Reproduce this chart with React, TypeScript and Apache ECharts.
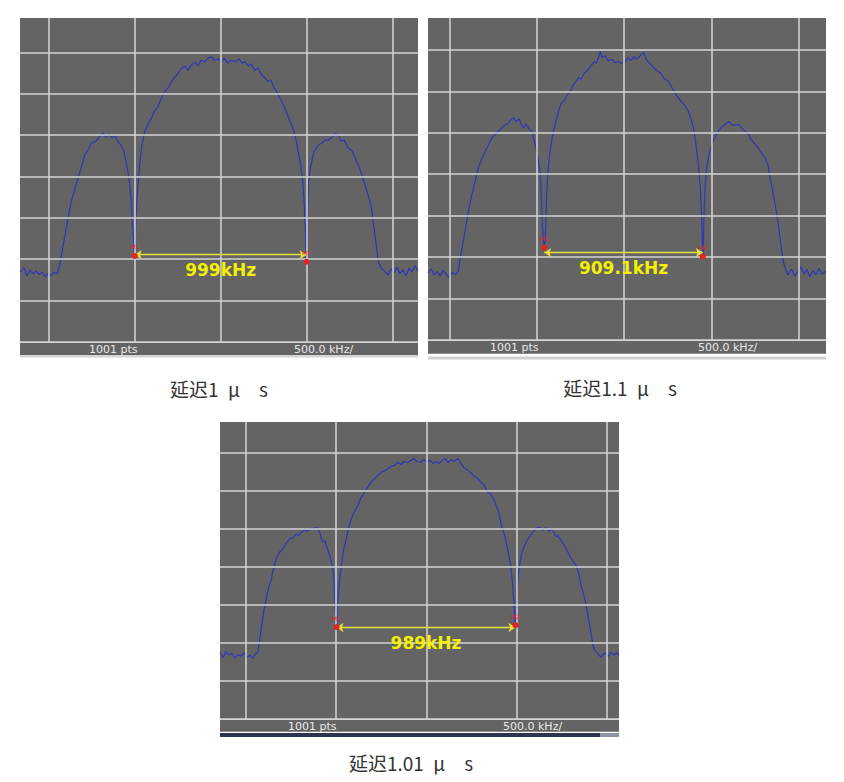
import { useEffect, useRef } from "react";
import * as echarts from "echarts";

// Graticule positions (500 kHz/div horizontally, 10 dB/div vertically)
const FREQ_GRID_KHZ = [-1000, -500, 0, 500, 1000];
const LEVEL_GRID_DB = [-20, -30, -40, -50, -60, -70, -80, -90];

const CAPTIONS = ["延迟1\u2002μ\u2003s", "延迟1.1\u2002μ\u2003s", "延迟1.01\u2002μ\u2003s"];
const POINTS_LABEL = "1001 pts";
const SPAN_LABEL = "500.0 kHz/";

// Delta markers: M1 position, M1→M2 spacing, marker levels and arrow level
const M1_KHZ = [-500, -458, -496];
const DELTA_KHZ = [999, 909.1, 989];
const M1_DB = [-69.2, -67.7, -65.8];
const M2_DB = [-70.6, -69.9, -65.3];
const ARROW_DB = [-68.9, -68.9, -65.9];

// Traces as [offset from centre kHz, level dB]
const TRACE_1US: [number, number][] = [
  [-1167, -73.1], [-1143, -72.1], [-1126, -74.0], [-1108, -72.6], [-1091, -73.5], [-1073, -72.8],
  [-1056, -73.7], [-1038, -73.1], [-1021, -74.3], [-1003, -73.3], [-986, -74.0], [-969, -73.1],
  [-951, -73.5], [-936, -71.4], [-923, -68.2], [-905, -64.1], [-888, -60.0], [-873, -56.9],
  [-859, -54.5], [-844, -52.3], [-830, -50.4], [-812, -48.0], [-791, -44.8], [-771, -43.6],
  [-754, -42.1], [-733, -41.6], [-719, -41.2], [-702, -40.2], [-684, -39.5], [-667, -40.5],
  [-649, -39.7], [-632, -40.7], [-616, -40.2], [-603, -41.2], [-580, -42.4], [-562, -44.1],
  [-551, -46.4], [-539, -48.9], [-529, -52.0], [-521, -55.7], [-516, -60.0], [-508, -64.5],
  [-500, -69.2], [-491, -58.5], [-481, -52.0], [-471, -47.2], [-458, -42.4], [-442, -39.2],
  [-423, -37.3], [-403, -35.9], [-388, -34.4], [-365, -33.1], [-347, -31.3], [-326, -29.5],
  [-306, -28.6], [-287, -27.1], [-266, -26.0], [-248, -25.0], [-229, -23.9], [-208, -23.3],
  [-190, -24.3], [-171, -23.1], [-149, -22.3], [-132, -23.3], [-115, -21.9], [-93, -22.3],
  [-74, -21.4], [-52, -21.1], [-39, -21.9], [-16, -21.6], [2, -22.3], [19, -21.4],
  [42, -22.6], [60, -21.9], [83, -22.3], [106, -21.6], [124, -22.6], [141, -22.3],
  [159, -23.3], [176, -22.8], [199, -24.3], [217, -23.8], [234, -25.2], [252, -26.0],
  [275, -27.1], [292, -26.7], [310, -28.6], [326, -29.5], [339, -30.6], [356, -32.0],
  [374, -33.5], [391, -35.4], [409, -37.3], [420, -38.3], [432, -40.0], [444, -42.4],
  [461, -46.4], [473, -49.6], [480, -52.8], [487, -58.1], [493, -64.1], [499, -70.6],
  [502, -64.8], [509, -52.8], [519, -48.4], [529, -46.4], [542, -44.1], [567, -42.4],
  [589, -41.9], [606, -41.2], [626, -41.2], [647, -40.5], [665, -39.7], [684, -40.0],
  [699, -41.4], [717, -41.2], [742, -43.2], [763, -43.8], [781, -45.5], [800, -47.2],
  [816, -48.9], [827, -50.8], [839, -52.0], [851, -53.7], [868, -56.1], [880, -58.6],
  [888, -61.7], [897, -64.1], [906, -67.3], [916, -70.6], [932, -72.1], [955, -73.0],
  [973, -73.8], [990, -72.3], [1008, -73.3], [1025, -71.9], [1042, -73.5], [1060, -72.6],
  [1077, -74.0], [1095, -72.1], [1112, -73.1], [1130, -71.6], [1147, -72.8],
];

const TRACE_1_1US: [number, number][] = [
  [-1124, -73.8], [-1105, -72.9], [-1088, -74.3], [-1071, -73.4], [-1054, -74.6], [-1037, -73.2],
  [-1019, -74.1], [-1002, -75.0], [-985, -73.6], [-968, -74.3], [-949, -73.3], [-939, -70.1],
  [-925, -66.9], [-911, -63.7], [-892, -58.8], [-876, -55.6], [-863, -53.2], [-848, -50.7],
  [-835, -48.4], [-816, -46.4], [-796, -44.4], [-779, -43.0], [-758, -41.2], [-739, -40.4],
  [-710, -39.2], [-687, -38.2], [-664, -37.7], [-653, -37.0], [-634, -36.4], [-619, -37.3],
  [-601, -36.6], [-590, -38.0], [-577, -38.8], [-561, -37.8], [-544, -39.2], [-529, -39.6],
  [-521, -40.9], [-510, -42.8], [-498, -45.2], [-491, -46.8], [-481, -50.0], [-475, -54.8],
  [-470, -60.8], [-464, -65.7], [-458, -67.7], [-450, -63.3], [-444, -54.8], [-435, -48.8],
  [-424, -44.4], [-414, -41.6], [-405, -39.6], [-389, -36.8], [-376, -34.8], [-361, -32.9],
  [-347, -32.4], [-326, -30.8], [-309, -30.0], [-292, -28.6], [-275, -27.6], [-262, -26.7],
  [-247, -27.1], [-229, -25.7], [-205, -24.7], [-189, -23.8], [-172, -22.8], [-160, -23.3],
  [-147, -21.9], [-137, -20.3], [-126, -21.9], [-109, -21.4], [-92, -22.6], [-70, -22.3],
  [-52, -23.1], [-34, -22.8], [-13, -23.3], [6, -22.8], [23, -21.9], [40, -22.6],
  [57, -21.6], [74, -22.3], [92, -21.4], [111, -20.6], [126, -22.3], [143, -23.1],
  [160, -23.8], [178, -24.7], [196, -25.2], [212, -25.7], [229, -26.9], [254, -27.6],
  [269, -28.8], [286, -30.0], [311, -31.6], [326, -32.4], [349, -33.4], [368, -34.8],
  [384, -36.8], [397, -38.8], [406, -41.1], [416, -44.4], [427, -48.3], [435, -52.4],
  [441, -57.2], [445, -61.3], [448, -65.7], [451.1, -69.9], [455, -65.7], [459, -58.4],
  [464, -53.2], [472, -48.8], [483, -46.0], [495, -44.0], [511, -42.0], [527, -40.6],
  [540, -39.6], [556, -38.7], [578, -38.0], [601, -37.3], [624, -38.2], [655, -38.0],
  [670, -38.7], [693, -39.6], [710, -40.1], [727, -41.6], [750, -42.8], [767, -43.5],
  [785, -44.7], [808, -46.0], [825, -47.8], [836, -50.8], [850, -53.6], [865, -57.2],
  [875, -59.6], [884, -62.0], [893, -65.2], [903, -68.5], [912, -71.0], [922, -72.5],
  [939, -74.3], [960, -72.9], [979, -74.6], [997, -73.4], [1014, -72.4], [1031, -74.1],
  [1048, -72.9], [1065, -74.8], [1082, -73.2], [1100, -74.3], [1117, -72.7], [1134, -74.1],
  [1157, -73.4],
];

const TRACE_1_01US: [number, number][] = [
  [-1141, -72.5], [-1124, -73.8], [-1108, -72.2], [-1091, -73.2], [-1075, -72.7], [-1058, -74.0],
  [-1041, -73.0], [-1025, -73.5], [-1008, -72.5], [-992, -73.8], [-975, -73.2], [-959, -74.0],
  [-942, -72.7], [-931, -72.4], [-913, -66.2], [-900, -61.9], [-885, -58.3], [-873, -55.6],
  [-857, -53.1], [-845, -50.3], [-830, -47.8], [-812, -46.1], [-793, -45.2], [-776, -43.8],
  [-756, -42.5], [-737, -42.2], [-721, -41.4], [-704, -41.7], [-691, -40.8], [-676, -40.3],
  [-660, -40.6], [-643, -39.8], [-627, -40.1], [-608, -39.5], [-599, -39.8], [-590, -40.8],
  [-580, -42.5], [-571, -43.4], [-560, -43.0], [-553, -44.3], [-544, -45.6], [-534, -46.9],
  [-524, -48.8], [-516, -50.4], [-510, -53.5], [-507, -57.5], [-502, -61.9], [-496, -65.8],
  [-493, -61.9], [-488, -58.3], [-480, -53.5], [-470, -49.6], [-458, -45.6], [-442, -42.5],
  [-430, -39.8], [-415, -37.3], [-397, -35.3], [-378, -33.8], [-361, -31.7], [-341, -30.3],
  [-322, -28.8], [-304, -27.6], [-289, -26.9], [-270, -25.9], [-249, -25.0], [-228, -24.6],
  [-212, -24.1], [-195, -23.5], [-175, -23.2], [-157, -22.4], [-140, -23.0], [-123, -22.2],
  [-104, -22.4], [-83, -21.9], [-68, -21.4], [-51, -22.2], [-28, -22.4], [-13, -21.7],
  [4, -22.4], [20, -21.9], [37, -22.7], [54, -22.2], [70, -22.7], [87, -21.9],
  [103, -21.4], [120, -22.4], [137, -21.7], [153, -22.2], [175, -21.4], [192, -22.7],
  [209, -23.8], [231, -24.6], [245, -25.1], [264, -26.1], [286, -26.7], [303, -27.7],
  [319, -28.5], [341, -30.3], [358, -30.9], [374, -32.2], [387, -33.8], [402, -35.6],
  [415, -39.0], [424, -40.3], [435, -41.9], [442, -43.4], [452, -45.6], [460, -47.7],
  [467, -49.6], [474, -52.7], [479, -55.7], [485, -59.3], [489, -62.7], [493, -65.3],
  [498, -61.9], [503, -55.7], [512, -50.9], [525, -46.9], [537, -45.1], [553, -43.4],
  [568, -42.2], [590, -40.8], [607, -39.8], [627, -39.5], [645, -40.3], [662, -39.6],
  [679, -40.6], [691, -39.9], [706, -40.9], [717, -41.9], [728, -41.7], [745, -43.0],
  [765, -44.3], [784, -46.1], [802, -47.8], [817, -48.8], [830, -49.6], [845, -52.2],
  [857, -54.8], [872, -57.5], [885, -60.1], [894, -62.7], [904, -65.4], [914, -68.2],
  [922, -70.6], [933, -72.0], [950, -72.8], [966, -73.8], [987, -72.5], [1005, -73.6],
  [1022, -72.4], [1038, -73.2], [1055, -72.5], [1066, -73.2],
];

const TRACES = [TRACE_1US, TRACE_1_1US, TRACE_1_01US];

// Screen layout of the three analyser panels
const PANELS = [
  { left: 20, top: 18, width: 398, height: 324, xMin: -1167, xMax: 1147, yMax: -11.7, barH: 13, ptsX: 89, spanX: 294, capX: 219, capY: 388 },
  { left: 428, top: 18, width: 398, height: 322, xMin: -1124, xMax: 1157, yMax: -12.3, barH: 13, ptsX: 490, spanX: 698, capX: 620, capY: 387 },
  { left: 220, top: 422, width: 399, height: 297, xMin: -1141, xMax: 1066, yMax: -11.8, barH: 12, ptsX: 288, spanX: 503, capX: 411, capY: 762 },
];

const PLOT_BG = "#646464";
const GRID_COLOR = "#d4d4d4";
const TRACE_COLOR = "#3136b6";
const MARKER_COLOR = "#e42222";

const fmtKHz = (v: number) => `${Math.round(v * 10) / 10}kHz`;

export default function App() {
  const ref = useRef<HTMLDivElement>(null);

  useEffect(() => {
    if (!ref.current) return;
    const chart = echarts.init(ref.current, undefined, { renderer: "svg" });

    const grid = PANELS.map((p) => ({
      left: p.left,
      top: p.top,
      width: p.width,
      height: p.height,
      show: true,
      backgroundColor: PLOT_BG,
      borderWidth: 0,
      containLabel: false,
    }));

    const xAxis = PANELS.map((p, i) => ({
      type: "value" as const,
      gridIndex: i,
      min: p.xMin,
      max: p.xMax,
      axisLine: { show: false },
      axisTick: { show: false },
      axisLabel: { show: false },
      splitLine: { show: false },
    }));

    const yAxis = PANELS.map((p, i) => ({
      type: "value" as const,
      gridIndex: i,
      min: -90,
      max: p.yMax,
      axisLine: { show: false },
      axisTick: { show: false },
      axisLabel: { show: false },
      splitLine: { show: false },
    }));

    const series: any[] = [];
    PANELS.forEach((_, i) => {
      // graticule
      series.push({
        type: "line",
        xAxisIndex: i,
        yAxisIndex: i,
        data: [],
        silent: true,
        z: 1,
        markLine: {
          silent: true,
          symbol: "none",
          label: { show: false },
          lineStyle: { color: GRID_COLOR, width: 1.5, type: "solid" },
          emphasis: { disabled: true },
          data: [
            ...FREQ_GRID_KHZ.map((v) => ({ xAxis: v })),
            ...LEVEL_GRID_DB.map((v) => ({ yAxis: v })),
          ],
        },
      });
      // spectrum trace
      series.push({
        type: "line",
        xAxisIndex: i,
        yAxisIndex: i,
        data: TRACES[i],
        showSymbol: false,
        silent: true,
        z: 2,
        lineStyle: { color: TRACE_COLOR, width: 1.2 },
      });
      // delta arrow between the markers
      const m1 = M1_KHZ[i];
      const m2 = M1_KHZ[i] + DELTA_KHZ[i];
      series.push({
        type: "line",
        xAxisIndex: i,
        yAxisIndex: i,
        data: [],
        silent: true,
        z: 3,
        markLine: {
          silent: true,
          symbol: ["arrow", "arrow"],
          symbolSize: 7,
          lineStyle: { color: "#e4df3a", width: 1.3, type: "solid" },
          emphasis: { disabled: true },
          label: {
            show: true,
            position: "insideMiddleBottom",
            distance: 7,
            formatter: () => fmtKHz(DELTA_KHZ[i]),
            color: "#f4f000",
            fontSize: 17,
            fontWeight: "bold",
            fontFamily: "DejaVu Sans",
          },
          data: [[{ coord: [m1, ARROW_DB[i]] }, { coord: [m2, ARROW_DB[i]] }]],
        },
      });
      // M1 / M2 markers, drawn as symbols of an invisible line
      series.push({
        type: "line",
        xAxisIndex: i,
        yAxisIndex: i,
        silent: true,
        z: 5,
        showSymbol: true,
        showAllSymbol: true,
        symbol: "circle",
        symbolSize: 6,
        lineStyle: { width: 0, opacity: 0 },
        itemStyle: { color: MARKER_COLOR, borderColor: MARKER_COLOR, borderWidth: 0, opacity: 1 },
        label: {
          show: true,
          position: "top",
          distance: 3,
          formatter: (d: any) => d.name,
          color: MARKER_COLOR,
          fontSize: 6,
          fontFamily: "DejaVu Sans",
        },
        data: [
          { name: "M1", value: [m1, M1_DB[i]] },
          { name: "M2", value: [m2, M2_DB[i]] },
        ],
      });
    });

    const graphic: any[] = [];
    PANELS.forEach((p, i) => {
      const barY = p.top + p.height;
      graphic.push({
        type: "rect",
        shape: { x: p.left, y: barY + 0.75, width: p.width, height: p.barH },
        style: { fill: PLOT_BG },
        silent: true,
      });
      graphic.push({
        type: "text",
        x: p.ptsX,
        y: barY + p.barH / 2 + 1,
        style: { text: POINTS_LABEL, fill: "#e8e8e8", font: "11px 'DejaVu Sans'", verticalAlign: "middle" },
        silent: true,
      });
      graphic.push({
        type: "text",
        x: p.spanX,
        y: barY + p.barH / 2 + 1,
        style: { text: SPAN_LABEL, fill: "#e8e8e8", font: "11px 'DejaVu Sans'", verticalAlign: "middle" },
        silent: true,
      });
      graphic.push({
        type: "text",
        x: p.capX,
        y: p.capY,
        style: {
          text: CAPTIONS[i],
          fill: "#333333",
          font: "19px 'Noto Sans CJK SC'",
          align: "center",
          verticalAlign: "middle",
        },
        silent: true,
      });
    });
    // strips under the status bars
    graphic.push(
      { type: "rect", shape: { x: 20, y: 355, width: 398, height: 2.5 }, style: { fill: "#d4d4d4" }, silent: true },
      { type: "rect", shape: { x: 428, y: 356.5, width: 398, height: 3 }, style: { fill: "#d0d0d0" }, silent: true },
      { type: "rect", shape: { x: 220, y: 733, width: 380, height: 4 }, style: { fill: "#2b3552" }, silent: true },
      { type: "rect", shape: { x: 600, y: 733, width: 19, height: 4 }, style: { fill: "#8d93a3" }, silent: true },
    );

    chart.setOption({
      animation: false,
      backgroundColor: "#ffffff",
      grid,
      xAxis,
      yAxis,
      series,
      graphic,
    });

    return () => chart.dispose();
  }, []);

  return (
    <div
      ref={ref}
      style={{ position: "absolute", left: 0, top: 0, width: 844, height: 782 }}
    />
  );
}
